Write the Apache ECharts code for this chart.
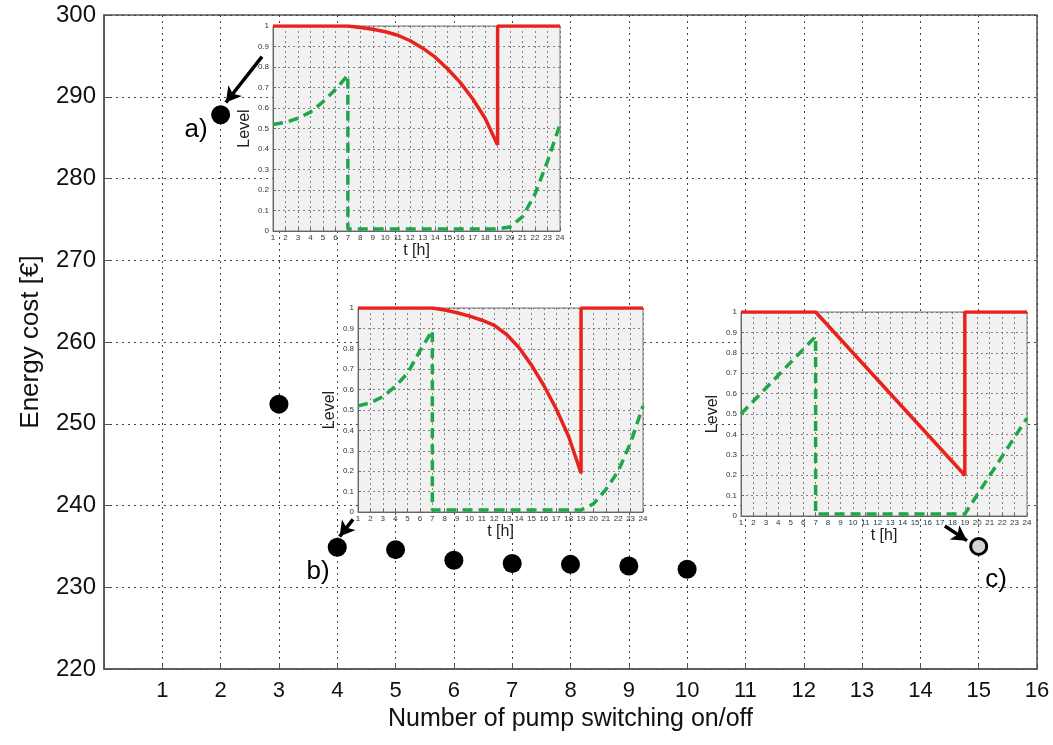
<!DOCTYPE html>
<html><head><meta charset="utf-8">
<script src="https://cdn.jsdelivr.net/npm/echarts@6/dist/echarts.min.js"></script>
<style>html,body{margin:0;padding:0;background:#fff}#c{width:1053px;height:745px}</style>
</head><body><div id="c"></div>
<script>
// ---- main chart data ----
const switchCounts = [2, 3, 4, 5, 6, 7, 8, 9, 10];
const energyCost = [287.8, 252.4, 234.9, 234.6, 233.3, 232.9, 232.8, 232.6, 232.2];
const pointC = [15, 235.0];
const xTicks = [0, 16, 1];
const yTicks = [220, 300, 10];
const caseLabels = [
  {name: 'a)', value: [1.58, 285.9]},
  {name: 'b)', value: [3.67, 231.9]},
  {name: 'c)', value: [15.3, 230.9]}
];
const arrows = [
  [[2.71, 294.9], [2.09, 289.3]],
  [[4.27, 238.3], [4.04, 236.2]],
  [[14.42, 237.5], [14.80, 235.7]]
];
// ---- inset data: [hour, level] ----
const insetA_red = [[1,1],[7,1],[8,0.993],[9,0.984],[10,0.972],[11,0.955],[12,0.928],[13,0.892],[14,0.848],[15,0.79],[16,0.725],[17,0.645],[18,0.55],[19,0.42],[19,1],[24,1]];
const insetA_green = [[1,0.52],[2,0.53],[3,0.55],[4,0.58],[5,0.63],[6,0.69],[7,0.76],[7,0.01],[19,0.01],[20,0.02],[21,0.07],[22,0.18],[23,0.34],[24,0.52]];
const insetB_red = [[1,1],[7,1],[8,0.99],[9,0.977],[10,0.96],[11,0.94],[12,0.915],[13,0.87],[14,0.805],[15,0.72],[16,0.62],[17,0.505],[18,0.37],[19,0.19],[19,1],[24,1]];
const insetB_green = [[1,0.52],[2,0.535],[3,0.565],[4,0.615],[5,0.68],[6,0.79],[7,0.89],[7,0.01],[19,0.01],[20,0.04],[21,0.11],[22,0.2],[23,0.34],[24,0.52]];
const insetC_red = [[1,1],[7,1],[19,0.2],[19,1],[24,1]];
const insetC_green = [[1,0.5],[7,0.88],[7,0.01],[19,0.01],[24,0.48]];
const shadedHours = [7, 19];

const FONT = 'Liberation Sans, Arial, sans-serif';
const insetGrids = [
  {left: 273, top: 26, width: 287, height: 205},
  {left: 358, top: 308, width: 285, height: 204},
  {left: 741, top: 312, width: 286, height: 204}
];
const insetData = [[insetA_red, insetA_green],[insetB_red, insetB_green],[insetC_red, insetC_green]];

const grids = [{left: 104, right: 16, top: 15, bottom: 76, show: true, borderColor: '#555', borderWidth: 1.5, backgroundColor: 'transparent', z: 0}];
const xAxes = [{
  type: 'value', gridIndex: 0, min: xTicks[0], max: xTicks[1], interval: xTicks[2], z: 0,
  name: 'Number of pump switching on/off', nameLocation: 'middle', nameGap: 36,
  nameTextStyle: {fontSize: 25, color: '#111', fontFamily: FONT},
  axisLine: {show: true, lineStyle: {color: '#555', width: 1.5}},
  axisTick: {show: true, inside: true, length: 6, lineStyle: {color: '#555'}},
  axisLabel: {fontSize: 22, color: '#111', fontFamily: FONT, margin: 11, formatter: v => v === 0 ? '' : String(v)},
  splitLine: {show: true, lineStyle: {type: [2, 4], color: '#444', width: 1}}
}];
const yAxes = [{
  type: 'value', gridIndex: 0, min: yTicks[0], max: yTicks[1], interval: yTicks[2], z: 0,
  name: 'Energy cost [€]', nameLocation: 'middle', nameGap: 60,
  nameTextStyle: {fontSize: 26, color: '#111', fontFamily: FONT},
  axisLine: {show: true, lineStyle: {color: '#555', width: 1.5}},
  axisTick: {show: true, inside: true, length: 6, lineStyle: {color: '#555'}},
  axisLabel: {fontSize: 24, color: '#111', fontFamily: FONT, margin: 8},
  splitLine: {show: true, lineStyle: {type: [2, 4], color: '#444', width: 1}}
}];
const series = [
  {
    type: 'scatter', xAxisIndex: 0, yAxisIndex: 0, z: 5,
    symbolSize: 19, itemStyle: {color: '#000', opacity: 1},
    data: switchCounts.map((x, i) => [x, energyCost[i]])
  },
  {
    type: 'scatter', xAxisIndex: 0, yAxisIndex: 0, z: 5,
    symbolSize: 16, itemStyle: {color: '#d4d4d4', borderColor: '#000', borderWidth: 3, opacity: 1},
    data: [pointC]
  },
  {
    type: 'scatter', xAxisIndex: 0, yAxisIndex: 0, z: 6,
    symbolSize: 1, itemStyle: {opacity: 0},
    label: {show: true, position: 'inside', formatter: p => p.name, fontSize: 26, color: '#000', opacity: 1, fontFamily: FONT},
    data: caseLabels,
    markLine: {
      silent: true, symbol: ['none', 'arrow'], symbolSize: [13, 15],
      lineStyle: {color: '#000', width: 3.5, type: 'solid', opacity: 1},
      label: {show: false},
      data: arrows.map(a => [{coord: a[0]}, {coord: a[1]}])
    }
  }
];

insetGrids.forEach((g, k) => {
  const gi = k + 1;
  grids.push(Object.assign({show: true, backgroundColor: '#f1f1f1', borderColor: '#777', borderWidth: 1, z: 3}, g));
  xAxes.push({
    type: 'value', gridIndex: gi, min: 1, max: 24, interval: 1, z: 4,
    name: 't [h]', nameLocation: 'middle', nameGap: 10,
    nameTextStyle: {fontSize: 16, color: '#222', fontFamily: FONT},
    axisLine: {show: true, lineStyle: {color: '#666', width: 1}},
    axisTick: {show: true, inside: true, length: 3, lineStyle: {color: '#666'}},
    axisLabel: {fontSize: 8, color: '#333', fontFamily: FONT, margin: 3, hideOverlap: false},
    splitLine: {show: true, lineStyle: {type: [2, 3], color: '#666', width: 0.8}}
  });
  yAxes.push({
    type: 'value', gridIndex: gi, min: 0, max: 1, interval: 0.1, z: 4,
    name: 'Level', nameLocation: 'middle', nameGap: 20,
    nameTextStyle: {fontSize: 16, color: '#222', fontFamily: FONT},
    axisLine: {show: true, lineStyle: {color: '#666', width: 1}},
    axisTick: {show: true, inside: true, length: 3, lineStyle: {color: '#666'}},
    axisLabel: {fontSize: 8, color: '#333', fontFamily: FONT, margin: 4, formatter: v => String(Math.round(v * 10) / 10)},
    splitLine: {show: true, lineStyle: {type: [2, 3], color: '#666', width: 0.8}}
  });
  const [red, green] = insetData[k];
  series.push({
    type: 'line', xAxisIndex: gi, yAxisIndex: gi, z: 5, showSymbol: false, symbol: 'none',
    lineStyle: {color: '#e8221c', width: 3.5}, data: red,
    markArea: {silent: true, itemStyle: {color: 'rgba(0,0,0,0.1)'},
      data: [[{xAxis: shadedHours[0]}, {xAxis: shadedHours[1]}]]}
  });
  series.push({
    type: 'line', xAxisIndex: gi, yAxisIndex: gi, z: 5, showSymbol: false, symbol: 'none',
    lineStyle: {color: '#1fa648', width: 3.5, type: [10, 6]}, data: green
  });
});

const chart = echarts.init(document.getElementById('c'));
chart.setOption({
  animation: false,
  backgroundColor: '#fff',
  grid: grids, xAxis: xAxes, yAxis: yAxes, series: series
});
</script>
</body></html>
